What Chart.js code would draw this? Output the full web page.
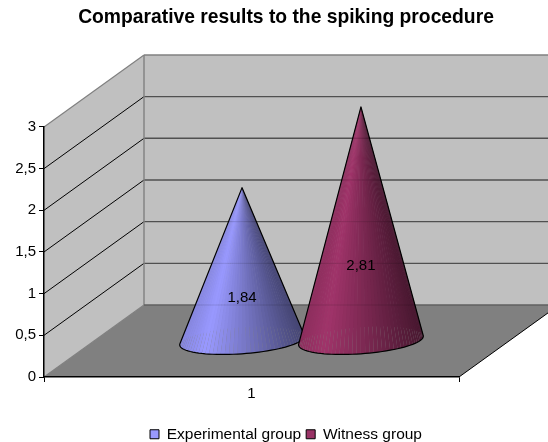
<!doctype html>
<html lang="en">
<head>
  <meta charset="utf-8">
  <title>Comparative results to the spiking procedure</title>
  <style>
    * { margin: 0; padding: 0; }
    body { background: white; }
    .chartBox { width: 548px; height: 442px; position: relative; overflow: hidden; }
  </style>
</head>
<body>
<div class="chartBox"><canvas id="myChart"></canvas></div>

<script src="https://cdn.jsdelivr.net/npm/chart.js"></script>
<script>
  // data
  const categories = ['1'];
  const experimentalGroup = [1.84];
  const witnessGroup = [2.81];
  const yMin = 0;
  const yMax = 3;
  const yStep = 0.5;

  const FONT = '"Liberation Sans", Arial, sans-serif';
  // how far the back wall sits behind the front plane
  const DEPTH_X = 100;
  const DEPTH_Y = 72;
  // title and legend are centred here, not on the plot
  const CAPTION_CENTRE = 286;

  function comma(v) {
    return String(v).replace('.', ',');
  }

  // walls and floor, placed from the chart area and the y scale
  const wallsPlugin = {
    id: 'walls',
    beforeDraw(chart) {
      const { ctx, chartArea: a, scales: { y } } = chart;
      const top = y.getPixelForValue(yMax);
      const bot = y.getPixelForValue(yMin);
      const poly = (pts, fill) => {
        ctx.beginPath();
        pts.forEach((p, i) => i ? ctx.lineTo(p[0], p[1]) : ctx.moveTo(p[0], p[1]));
        ctx.closePath();
        ctx.fillStyle = fill;
        ctx.fill();
      };
      const line = (x1, y1, x2, y2, color, w) => {
        ctx.beginPath();
        ctx.moveTo(x1, y1);
        ctx.lineTo(x2, y2);
        ctx.strokeStyle = color;
        ctx.lineWidth = w;
        ctx.stroke();
      };
      ctx.save();
      poly([[a.left + DEPTH_X, top - DEPTH_Y], [a.right + DEPTH_X, top - DEPTH_Y], [a.right + DEPTH_X, bot - DEPTH_Y], [a.left + DEPTH_X, bot - DEPTH_Y]], '#c0c0c0');
      poly([[a.left, top], [a.left + DEPTH_X, top - DEPTH_Y], [a.left + DEPTH_X, bot - DEPTH_Y], [a.left, bot]], '#c0c0c0');
      poly([[a.left, bot], [a.right, bot], [a.right + DEPTH_X, bot - DEPTH_Y], [a.left + DEPTH_X, bot - DEPTH_Y]], '#808080');

      y.ticks.forEach(t => {
        if (t.value === yMin || t.value === yMax) return;
        const py = y.getPixelForValue(t.value);
        line(a.left, py, a.left + DEPTH_X, py - DEPTH_Y, '#000', 1);
        line(a.left + DEPTH_X, py - DEPTH_Y, a.right + DEPTH_X, py - DEPTH_Y, '#505050', 1.4);
      });
      line(a.left, top, a.left + DEPTH_X, top - DEPTH_Y, '#808080', 1.2);
      line(a.left + DEPTH_X, top - DEPTH_Y, a.right + DEPTH_X, top - DEPTH_Y, '#808080', 1.4);
      line(a.left + DEPTH_X, top - DEPTH_Y, a.left + DEPTH_X, bot - DEPTH_Y, '#808080', 1.4);
      line(a.left, bot, a.left + DEPTH_X, bot - DEPTH_Y, '#808080', 1.2);
      line(a.left + DEPTH_X, bot - DEPTH_Y, a.right + DEPTH_X, bot - DEPTH_Y, '#606060', 1.4);
      line(a.right, bot, a.right + DEPTH_X, bot - DEPTH_Y, '#000', 1);
      ctx.restore();
    },
    afterLayout(chart) {
      [chart.titleBlock, chart.legend].forEach(box => {
        const shift = CAPTION_CENTRE - (box.left + box.right) / 2;
        box.left += shift;
        box.right += shift;
      });
      chart.legend.top += 10;
      chart.legend.bottom += 10;
    }
  };

  function shade(rgb, p) {
    // light from the left, dark on the right
    const f = p < 0.2 ? 0.88 + 0.6 * p : 1 - 0.55 * (p - 0.2) / 0.8;
    return 'rgb(' + rgb.map(c => Math.round(c * f)).join(',') + ')';
  }

  // cones, placed from the bar elements Chart.js computed
  const conesPlugin = {
    id: 'cones',
    beforeDatasetDraw() {
      return false; // no flat bars, the cones replace them
    },
    afterDatasetsDraw(chart) {
      const { ctx, chartArea: a, scales: { y } } = chart;
      chart.data.datasets.forEach((ds, di) => {
        const bar = chart.getDatasetMeta(di).data[0];
        const cx = bar.x + DEPTH_X / 2;
        const baseY = bar.base - DEPTH_Y / 2;
        const tipY = bar.y - DEPTH_Y / 2;
        const R = bar.width / 2 * 0.95;
        const skewX = bar.width * 0.155;
        const skewY = bar.width * 0.112;
        const N = 90;
        const pts = [];
        for (let i = 0; i < N; i++) {
          const t = i / N * Math.PI * 2;
          pts.push({ x: cx + R * Math.cos(t) + skewX * Math.sin(t), y: baseY - skewY * Math.sin(t), s: Math.sin(t) });
        }
        const left = Math.min(...pts.map(p => p.x));
        const right = Math.max(...pts.map(p => p.x));

        // facets, back ones first
        const facets = pts.map((p, i) => ({ p, q: pts[(i + 1) % N] }));
        facets.sort((m, n) => n.p.s - m.p.s);
        ctx.save();
        facets.forEach(f => {
          ctx.beginPath();
          ctx.moveTo(cx, tipY);
          ctx.lineTo(f.p.x, f.p.y);
          ctx.lineTo(f.q.x, f.q.y);
          ctx.closePath();
          ctx.fillStyle = shade(ds.shadeRgb, ((f.p.x + f.q.x) / 2 - left) / (right - left));
          ctx.fill();
        });

        // outline: tip, tangent point, front of base, tangent point
        let li = 0, ri = 0, la = Infinity, ra = -Infinity;
        pts.forEach((p, i) => {
          const ang = (p.x - cx) / (p.y - tipY);
          if (ang < la) { la = ang; li = i; }
          if (ang > ra) { ra = ang; ri = i; }
        });
        const outline = new Path2D();
        outline.moveTo(cx, tipY);
        outline.lineTo(pts[li].x, pts[li].y);
        for (let i = li; i !== ri; i = (i + 1) % N) {
          const q = pts[(i + 1) % N];
          outline.lineTo(q.x, q.y);
        }
        outline.closePath();

        // faint gridlines show through the cone
        ctx.save();
        ctx.clip(outline);
        ctx.globalAlpha = 0.12;
        ctx.strokeStyle = '#000';
        ctx.lineWidth = 1;
        y.ticks.forEach(t => {
          const py = y.getPixelForValue(t.value) - DEPTH_Y;
          ctx.beginPath();
          ctx.moveTo(a.left, py);
          ctx.lineTo(a.right + DEPTH_X, py);
          ctx.stroke();
        });
        ctx.restore();

        ctx.strokeStyle = '#000';
        ctx.lineWidth = 1.2;
        ctx.lineJoin = 'round';
        ctx.stroke(outline);

        // value label
        ctx.fillStyle = '#000';
        ctx.font = '15px ' + FONT;
        ctx.textAlign = 'center';
        ctx.textBaseline = 'middle';
        ctx.fillText(comma(ds.data[0]), cx, tipY + (baseY - tipY) * ds.labelAt);
        ctx.restore();
      });
    }
  };

  const data = {
    labels: categories,
    datasets: [
      {
        label: 'Experimental group',
        data: experimentalGroup,
        backgroundColor: '#9999ff',
        borderColor: '#000',
        borderWidth: 1,
        shadeRgb: [153, 153, 255],
        labelAt: 0.72
      },
      {
        label: 'Witness group',
        data: witnessGroup,
        backgroundColor: '#993366',
        borderColor: '#000',
        borderWidth: 1,
        shadeRgb: [160, 52, 106],
        labelAt: 0.68
      }
    ]
  };

  const config = {
    type: 'bar',
    data,
    plugins: [wallsPlugin, conesPlugin],
    options: {
      responsive: true,
      maintainAspectRatio: false,
      animation: false,
      categoryPercentage: 0.573,
      barPercentage: 1.05,
      layout: { padding: { left: 0, right: 89, top: 0, bottom: 0 } },
      scales: {
        x: {
          grid: { offset: true, drawOnChartArea: false, tickLength: 5, color: '#000' },
          border: { color: '#000', width: 1.5 },
          ticks: { color: '#000', font: { family: FONT, size: 15 }, padding: 3 },
          afterFit(scale) { scale.height = 34.5; }
        },
        y: {
          min: yMin,
          max: yMax,
          grid: { drawOnChartArea: false, tickLength: 5, color: '#000' },
          border: { color: '#000', width: 1.5 },
          ticks: {
            stepSize: yStep,
            color: '#000',
            font: { family: FONT, size: 15 },
            padding: 3,
            callback: v => comma(v)
          },
          afterFit(scale) { scale.width = 44; }
        }
      },
      plugins: {
        title: {
          display: true,
          text: 'Comparative results to the spiking procedure',
          color: '#000',
          font: { family: FONT, size: 19.3, weight: 'bold' },
          padding: { top: 6, bottom: 97.8 }
        },
        legend: {
          display: true,
          position: 'bottom',
          labels: {
            color: '#000',
            boxWidth: 9,
            boxHeight: 9,
            padding: 5,
            font: { family: FONT, size: 15.5 }
          }
        },
        tooltip: { enabled: false }
      }
    }
  };

  new Chart(document.getElementById('myChart'), config);
</script>
</body>
</html>
